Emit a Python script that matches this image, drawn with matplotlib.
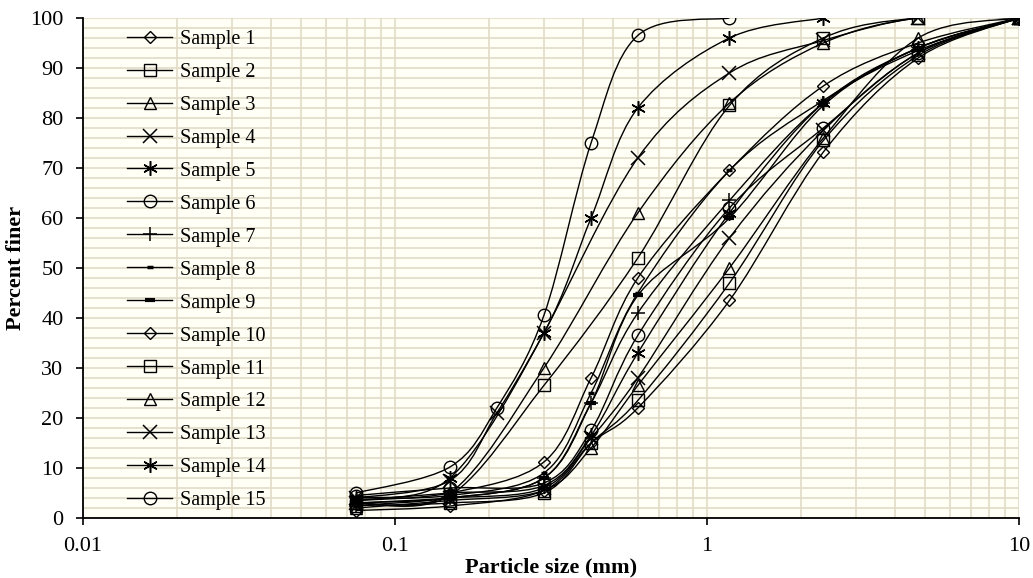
import numpy as np
import matplotlib.pyplot as plt
from matplotlib.path import Path
from matplotlib.patches import PathPatch
from matplotlib.lines import Line2D
from matplotlib.ticker import MultipleLocator, NullFormatter, LogLocator

plt.rcParams['font.family'] = ['Liberation Serif', 'DejaVu Serif']

# sieve sizes (mm) and percent passing for each sample
s1_x = [0.075, 0.15, 0.3, 0.425, 0.6, 1.18, 2.36, 4.75, 10]
s1_y = [1.5, 2.4, 5.5, 15, 22, 43.5, 73.2, 92, 100]
s2_x = [0.075, 0.15, 0.3, 0.425, 0.6, 1.18, 2.36, 4.75, 10]
s2_y = [2.5, 3, 5, 15, 23.5, 47, 75.5, 92.5, 100]
s3_x = [0.075, 0.15, 0.3, 0.425, 0.6, 1.18, 2.36, 4.75, 10]
s3_y = [2, 3.5, 5.5, 14, 26.5, 50, 76, 96, 100]
s4_x = [0.075, 0.15, 0.3, 0.425, 0.6, 1.18, 2.36, 4.75, 10]
s4_y = [3, 4, 6, 16, 28, 56, 77.5, 93, 100]
s5_x = [0.075, 0.15, 0.3, 0.425, 0.6, 1.18, 2.36, 4.75, 10]
s5_y = [3.5, 5, 6.5, 16.5, 33, 61, 83, 94, 100]
s6_x = [0.075, 0.15, 0.3, 0.425, 0.6, 1.18, 2.36, 4.75, 10]
s6_y = [4.5, 6, 7, 17.5, 36.5, 62, 78, 93, 100]
s7_x = [0.075, 0.15, 0.3, 0.425, 0.6, 1.18, 2.36, 4.75, 10]
s7_y = [2.5, 4, 8, 23, 41, 63.5, 83, 93.5, 100]
s8_x = [0.075, 0.15, 0.3, 0.425, 0.6, 1.18, 2.36, 4.75, 10]
s8_y = [4, 4.5, 9, 25, 45, 69.5, 83.5, 94, 100]
s9_x = [0.075, 0.15, 0.3, 0.425, 0.6, 1.18, 2.36, 4.75, 10]
s9_y = [3, 4, 8, 23, 44.5, 60, 82.5, 94, 100]
s10_x = [0.075, 0.15, 0.3, 0.425, 0.6, 1.18, 2.36, 4.75, 10]
s10_y = [3.5, 5, 11.2, 28, 48, 69.5, 86.4, 95, 100]
s11_x = [0.075, 0.15, 0.3, 0.6, 1.18, 2.36, 4.75, 10]
s11_y = [3, 4.5, 26.5, 52, 82.5, 96, 100, 100]
s12_x = [0.075, 0.15, 0.3, 0.6, 1.18, 2.36, 4.75, 10]
s12_y = [3, 5, 30, 61, 83, 95, 100, 100]
s13_x = [0.075, 0.15, 0.212, 0.3, 0.6, 1.18, 2.36, 4.75, 10]
s13_y = [4, 7.5, 21, 37, 72, 89, 95.5, 100, 100]
s14_x = [0.075, 0.15, 0.3, 0.425, 0.6, 1.18, 2.36]
s14_y = [4, 8, 37, 60, 82, 96, 100]
s15_x = [0.075, 0.15, 0.212, 0.3, 0.425, 0.6, 1.18]
s15_y = [5, 10.2, 22, 40.5, 75, 96.5, 100]

labels = ['Sample 1', 'Sample 2', 'Sample 3', 'Sample 4', 'Sample 5',
          'Sample 6', 'Sample 7', 'Sample 8', 'Sample 9', 'Sample 10',
          'Sample 11', 'Sample 12', 'Sample 13', 'Sample 14', 'Sample 15']
xs = [s1_x, s2_x, s3_x, s4_x, s5_x, s6_x, s7_x, s8_x, s9_x, s10_x,
      s11_x, s12_x, s13_x, s14_x, s15_x]
ys = [s1_y, s2_y, s3_y, s4_y, s5_y, s6_y, s7_y, s8_y, s9_y, s10_y,
      s11_y, s12_y, s13_y, s14_y, s15_y]

asterisk = (6, 2, 0)
# marker, size, edge width
styles = [('D', 6.5, 1.0), ('s', 8, 1.0), ('^', 8.5, 1.0), ('x', 9.5, 1.1),
          (asterisk, 10.5, 1.1), ('o', 9, 1.0), ('+', 10.5, 1.1),
          ('_', 4, 2.5), ('_', 7, 3.0)]
styles = styles + styles[:6]


def smooth_path(x, y):
    # excel-style smoothed line: cubic bezier through the points, in log-x space
    p = np.column_stack([np.log10(x), y])
    n = len(p)
    verts = [p[0]]
    codes = [Path.MOVETO]
    for i in range(n - 1):
        p0 = p[i - 1] if i > 0 else p[i]
        p1 = p[i]
        p2 = p[i + 1]
        p3 = p[i + 2] if i + 2 < n else p[i + 1]
        verts += [p1 + (p2 - p0) / 6, p2 - (p3 - p1) / 6, p2]
        codes += [Path.CURVE4] * 3
    verts = np.array(verts)
    verts[:, 0] = 10 ** verts[:, 0]
    return Path(verts, codes)


fig = plt.figure(figsize=(10.33, 5.78), dpi=100)
ax = fig.add_axes([0.0803, 0.1038, 0.9062, 0.8651])
ax.set_facecolor('#fffff6')

handles = []
for x, y, lab, (m, ms, mew) in zip(xs, ys, labels, styles):
    ax.add_patch(PathPatch(smooth_path(x, y), facecolor='none',
                           edgecolor='black', lw=1.0, zorder=3))
    ax.plot(x, y, ls='none', marker=m, ms=ms, mew=mew, mec='black',
            mfc='none', zorder=4)
    handles.append(Line2D([], [], color='black', lw=1.0, marker=m, ms=ms,
                          mew=mew, mec='black', mfc='none'))

ax.set_xscale('log')
ax.set_xlim(0.01, 10)
ax.set_ylim(0, 100)

ax.set_xticks([0.01, 0.1, 1, 10], ['0.01', '0.1', '1', '10'])
ax.xaxis.set_minor_locator(LogLocator(base=10, subs=np.arange(2, 10)))
ax.xaxis.set_minor_formatter(NullFormatter())
ax.set_yticks(np.arange(0, 101, 10))
ax.yaxis.set_minor_locator(MultipleLocator(2))

ax.grid(which='both', color='#e2dcc6', lw=1.2)
ax.set_axisbelow(True)
ax.tick_params(which='major', direction='out', length=5, width=1.2,
               labelsize=16, color='black')
ax.tick_params(axis='y', which='major', pad=9)
ax.tick_params(axis='x', which='major', pad=9)
ax.tick_params(which='minor', length=0)

for side in ['top', 'right']:
    ax.spines[side].set_visible(False)
for side in ['left', 'bottom']:
    ax.spines[side].set_linewidth(1.3)
    ax.spines[side].set_zorder(5)

ax.set_xlabel('Particle size (mm)', fontsize=16, fontweight='bold')
ax.set_ylabel('Percent finer', fontsize=16, fontweight='bold')
ax.xaxis.set_label_coords(0.5, -0.078)
ax.yaxis.set_label_coords(-0.061, 0.5)

ax.legend(handles, labels, loc='upper left', bbox_to_anchor=(0.047, 0.977),
          frameon=False, fontsize=14.5, handlelength=2.25, handletextpad=0.4,
          labelspacing=0.69, borderpad=0, borderaxespad=0)

fig.savefig('out.png', dpi=100)
